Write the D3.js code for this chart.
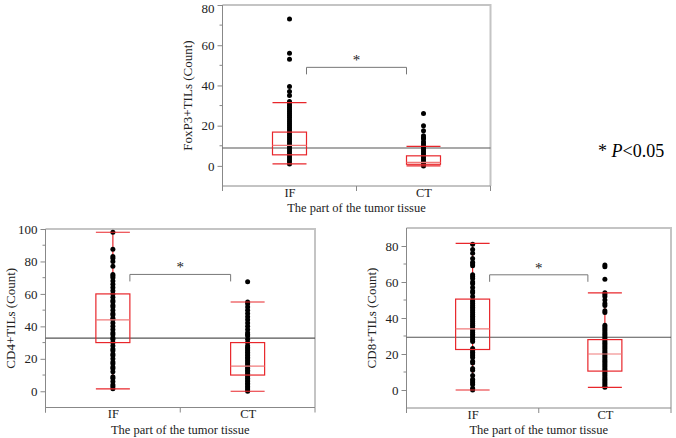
<!DOCTYPE html>
<html>
<head>
<meta charset="utf-8">
<script src="https://cdn.jsdelivr.net/npm/d3@7"></script>
<style>
  body { margin: 0; background: #fff; }
  svg { font-family: "Liberation Serif", "Times New Roman", serif; }
</style>
</head>
<body>
<div id="chart-area"></div>
<script>
// categories
var cats = ["IF", "CT"];

// individual counts
var foxp3IF = [73, 56, 53, 39.5, 37, 35, 32, 31, 30, 29, 28, 27, 26, 25, 24, 23, 22, 21, 20, 19, 18, 17, 16, 15, 14, 13, 12, 11, 10, 9, 8, 7, 6, 5, 4, 3, 2, 1];
var foxp3CT = [26, 20, 17.5, 15, 14, 13.5, 12, 11, 10, 9, 8, 7, 6, 5, 4, 3, 2, 1, 0];
var cd4IF = [98, 87.5, 83, 82, 80, 77, 72, 71, 70, 68, 66, 64, 62, 60, 58, 56, 55, 53, 52, 50, 48, 47, 45, 44, 42, 40, 38, 36, 35, 33, 32, 30, 28, 26, 25, 23, 22, 20, 18, 17, 15, 14, 12, 9, 8, 6, 4, 3, 1.5];
var cd4CT = [67.5, 55, 54, 52, 50, 48, 46, 44, 42, 40, 38, 36, 35, 34, 32, 30, 28, 27, 26, 25, 24, 23, 22, 21, 20, 19, 18, 17, 16, 15, 14, 13, 12, 11, 10, 9, 8, 7, 6, 5, 4, 3, 2, 1, 0];
var cd8IF = [81, 78, 76, 73, 71, 70, 69, 64, 63, 62, 60, 59, 57, 55, 54, 52, 50, 49, 48, 47, 46, 45, 44, 43, 42, 41, 40, 39, 38, 37, 36, 35, 34, 33, 32, 31, 30, 29, 28, 27, 23, 22, 21, 20, 19, 18, 16, 15, 12, 11, 8, 6, 5, 4, 3, 1, 0];
var cd8CT = [69.5, 68.5, 61.5, 54, 53, 52, 50, 48, 47, 44, 43, 36, 35, 34, 33, 32, 31, 30, 29, 28, 27, 26, 25, 24, 23, 22, 21, 20, 19, 18, 17, 16, 15, 14, 13, 12, 11, 10, 9, 8, 7, 6, 5, 4, 3, 2, 1.5];

// box stats per category: [lower whisker, q1, median, q3, upper whisker]
var foxp3Box = [[1, 5.5, 10.2, 16.8, 31.5], [0, 0.8, 1.7, 5, 9.7]];
var cd4Box = [[1.5, 30, 44, 60, 98], [0, 10, 15.5, 30, 55]];
var cd8Box = [[0, 22.5, 34, 50.5, 81.5], [1.5, 10.5, 20, 28, 54]];

// grand means (horizontal line)
var grandMeans = [8.9, 32.7, 29.3];
// height of the significance bracket
var sigLevels = [49, 72, 64];

// tick labels
var foxp3Ticks = [0, 20, 40, 60, 80];
var cd4Ticks = [0, 20, 40, 60, 80, 100];
var cd8Ticks = [0, 20, 40, 60, 80];

var panels = [
  { title: "FoxP3+TILs (Count)", pts: [foxp3IF, foxp3CT], box: foxp3Box, mean: grandMeans[0], sig: sigLevels[0],
    ticks: foxp3Ticks, domain: [-10, 80], x0: 222.5, x1: 490.5, y0: 5, y1: 186 },
  { title: "CD4+TILs (Count)", pts: [cd4IF, cd4CT], box: cd4Box, mean: grandMeans[1], sig: sigLevels[1],
    ticks: cd4Ticks, domain: [-10, 100], x0: 45.5, x1: 315, y0: 229, y1: 407.5 },
  { title: "CD8+TILs (Count)", pts: [cd8IF, cd8CT], box: cd8Box, mean: grandMeans[2], sig: sigLevels[2],
    ticks: cd8Ticks, domain: [-10, 90], x0: 406.5, x1: 671, y0: 228, y1: 408 }
];

var svg = d3.select("#chart-area")
  .append("svg")
    .attr("width", 676)
    .attr("height", 438);

var red = "#e8262b", pink = "#f07a7a";
var boxW = 34;

panels.forEach(function(p) {
  var g = svg.append("g");
  var x = d3.scalePoint().domain(cats).range([p.x0, p.x1]).padding(0.5);
  var y = d3.scaleLinear().domain(p.domain).range([p.y1, p.y0]);

  // frame top and right
  g.append("path")
    .attr("d", "M" + p.x0 + "," + p.y0 + "H" + p.x1 + "V" + p.y1)
    .attr("fill", "none").attr("stroke", "#c4c4c4").attr("stroke-width", 2);

  // minor ticks
  var minor = d3.range(p.domain[0] + 20, p.domain[1], 20);
  g.selectAll(".minor").data(minor).enter().append("line")
    .attr("x1", p.x0 - 3).attr("x2", p.x0)
    .attr("y1", function(d) { return y(d); }).attr("y2", function(d) { return y(d); })
    .attr("stroke", "#888");

  var yAxisCall = d3.axisLeft(y).tickValues(p.ticks).tickSize(5).tickPadding(3);
  var ya = g.append("g")
    .attr("transform", "translate(" + p.x0 + ",0)")
    .call(yAxisCall);
  ya.select(".domain").attr("stroke", "#888").attr("d", "M0," + (p.y0) + "V" + (p.y1 + 5));
  ya.selectAll(".tick line").attr("stroke", "#888");
  ya.selectAll("text").attr("font-size", "13px").attr("fill", "#222")
    .attr("font-family", "Liberation Serif")
    .attr("dy", function(d) { return y(d) < 12 ? "0.6em" : "0.32em"; });

  // x axis
  var xAxisCall = d3.axisBottom(x).tickSize(0).tickPadding(2);
  var xa = g.append("g")
    .attr("transform", "translate(0," + p.y1 + ")")
    .call(xAxisCall);
  xa.select(".domain").attr("stroke", "#888").attr("d", "M" + p.x0 + ",0H" + p.x1);
  xa.selectAll("text").attr("font-size", "12.5px").attr("fill", "#222")
    .attr("font-family", "Liberation Serif");
  [p.x0, (p.x0 + p.x1) / 2, p.x1].forEach(function(xx) {
    g.append("line").attr("x1", xx).attr("x2", xx)
      .attr("y1", p.y1).attr("y2", p.y1 + 5).attr("stroke", "#888");
  });

  // axis titles
  g.append("text")
    .attr("x", (p.x0 + p.x1) / 2)
    .attr("y", p.y1 + 26)
    .attr("text-anchor", "middle")
    .attr("font-size", "12.5px")
    .attr("fill", "#222")
    .text("The part of the tumor tissue");

  g.append("text")
    .attr("transform", "translate(" + (p.x0 - 35) + "," + ((p.y0 + p.y1) / 2) + ") rotate(-90)")
    .attr("text-anchor", "middle")
    .attr("dy", "0.35em")
    .attr("font-size", "13px")
    .attr("fill", "#222")
    .text(p.title);

  // grand mean line
  g.append("line")
    .attr("x1", p.x0).attr("x2", p.x1)
    .attr("y1", y(p.mean)).attr("y2", y(p.mean))
    .attr("stroke", "#555").attr("stroke-width", 1.2);

  cats.forEach(function(c, i) {
    var cx = x(c), s = p.box[i];
    // whisker stem
    g.append("line")
      .attr("x1", cx).attr("x2", cx)
      .attr("y1", y(s[0])).attr("y2", y(s[4]))
      .attr("stroke", red).attr("stroke-width", 1.2);

    // dots
    g.selectAll(".dot" + i).data(p.pts[i]).enter().append("circle")
      .attr("cx", cx)
      .attr("cy", function(d) { return y(d); })
      .attr("r", 2.5)
      .attr("fill", "#000");

    // box
    g.append("rect")
      .attr("x", cx - boxW / 2).attr("width", boxW)
      .attr("y", y(s[3])).attr("height", y(s[1]) - y(s[3]))
      .attr("fill", "none").attr("stroke", red).attr("stroke-width", 1.2);
    g.append("line")
      .attr("x1", cx - boxW / 2).attr("x2", cx + boxW / 2)
      .attr("y1", y(s[2])).attr("y2", y(s[2]))
      .attr("stroke", pink).attr("stroke-width", 1.2);
    [s[0], s[4]].forEach(function(v) {
      g.append("line")
        .attr("x1", cx - boxW / 2).attr("x2", cx + boxW / 2)
        .attr("y1", y(v)).attr("y2", y(v))
        .attr("stroke", red).attr("stroke-width", 1.2);
    });
  });

  // significance bracket
  var bx0 = x("IF") + boxW / 2, bx1 = x("CT") - boxW / 2, by = y(p.sig);
  g.append("path")
    .attr("d", "M" + bx0 + "," + (by + 7) + "V" + by + "H" + bx1 + "V" + (by + 7))
    .attr("fill", "none").attr("stroke", "#777").attr("stroke-width", 1);
  g.append("text")
    .attr("x", (bx0 + bx1) / 2)
    .attr("y", by - 2)
    .attr("text-anchor", "middle")
    .attr("font-size", "15px")
    .attr("fill", "#222")
    .text("*");
});

// p-value note
var note = svg.append("text")
  .attr("x", 598)
  .attr("y", 157)
  .attr("font-size", "18px")
  .attr("fill", "#000");
note.append("tspan").text("* ");
note.append("tspan").attr("font-style", "italic").text("P");
note.append("tspan").text("<0.05");
</script>
</body>
</html>
